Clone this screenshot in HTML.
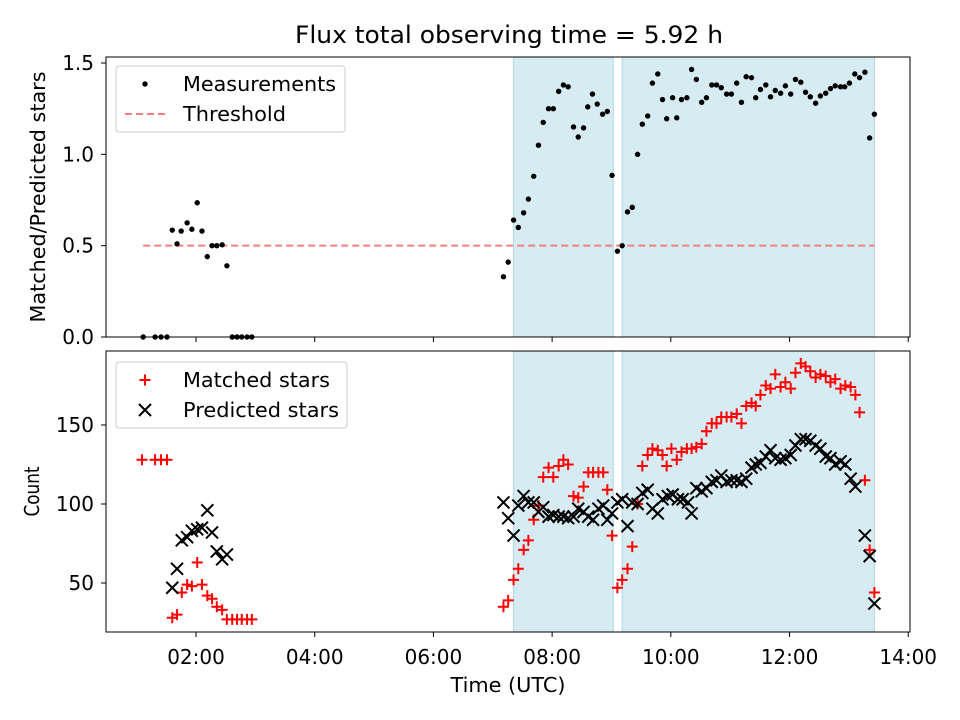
<!DOCTYPE html>
<html><head><meta charset="utf-8"><style>
body{margin:0;background:#fff;}
svg{display:block;font-family:"DejaVu Sans","Liberation Sans",sans-serif;}
</style></head><body>
<svg id="c" width="960" height="720" viewBox="0 0 960 720"></svg>
<script>
const ratioT=[1.11,1.31,1.41,1.51,1.60,1.68,1.75,1.85,1.93,2.02,2.10,2.19,2.27,2.35,2.44,2.52,2.61,2.69,2.77,2.86,2.94,
7.18,7.26,7.35,7.43,7.52,7.60,7.69,7.77,7.85,7.94,8.02,8.11,8.19,8.27,8.36,8.44,8.53,8.60,8.68,8.76,8.85,8.93,9.01,9.10,9.18,9.27,9.35,9.44,9.52,9.61,9.69,9.78,9.86,9.93,10.03,10.10,10.18,10.27,10.35,10.43,10.52,10.60,10.69,10.77,10.85,10.94,11.02,11.11,11.19,11.27,11.36,11.43,11.51,11.60,11.68,11.76,11.85,11.93,12.02,12.10,12.19,12.27,12.35,12.44,12.52,12.61,12.69,12.77,12.86,12.93,13.01,13.10,13.18,13.27,13.35,13.43];
const ratioV=[0,0,0,0,0.585,0.51,0.58,0.625,0.59,0.735,0.58,0.44,0.50,0.50,0.505,0.39,0,0,0,0,0,
0.33,0.41,0.64,0.60,0.68,0.755,0.88,1.05,1.175,1.25,1.25,1.345,1.38,1.37,1.15,1.095,1.145,1.26,1.33,1.275,1.22,1.235,0.885,0.47,0.50,0.685,0.71,1.0,1.165,1.21,1.39,1.44,1.30,1.195,1.31,1.20,1.30,1.31,1.465,1.41,1.285,1.31,1.38,1.38,1.365,1.33,1.33,1.39,1.285,1.425,1.42,1.31,1.355,1.38,1.315,1.35,1.335,1.375,1.33,1.41,1.395,1.34,1.315,1.28,1.32,1.335,1.36,1.375,1.37,1.37,1.39,1.44,1.42,1.45,1.09,1.22];
const matchT=[1.09,1.31,1.41,1.51,1.60,1.68,1.76,1.85,1.93,2.02,2.10,2.19,2.27,2.35,2.44,2.52,2.61,2.69,2.77,2.86,2.94,
7.18,7.26,7.35,7.43,7.52,7.60,7.69,7.77,7.85,7.94,8.02,8.11,8.19,8.27,8.36,8.44,8.53,8.61,8.69,8.78,8.86,8.93,9.01,9.10,9.18,9.27,9.35,9.44,9.52,9.61,9.69,9.78,9.86,9.93,10.01,10.10,10.18,10.27,10.35,10.43,10.52,10.60,10.69,10.77,10.85,10.94,11.02,11.11,11.19,11.27,11.36,11.43,11.51,11.60,11.68,11.76,11.85,11.93,12.02,12.10,12.19,12.27,12.35,12.44,12.52,12.61,12.69,12.77,12.86,12.94,13.03,13.11,13.18,13.27,13.35,13.43];
const matchV=[128,128,128,128,28,30,44,49,48,63,49,42,40,35,33,27,27,27,27,27,27,
35,39,52,59,71,77,90,99,117,123,117,124,128,125,105,104,111,120,120,120,120,109,80,47,52,59,73,100,124,131,135,134,131,124,135,128,133,135,135,136,138,146,151,151,155,155,155,157,151,162,164,162,169,175,173,182,174,177,173,183,189,187,184,180,182,181,177,179,173,175,174,169,158,115,71,44];
const predT=[1.60,1.68,1.76,1.85,1.93,2.02,2.10,2.19,2.27,2.35,2.44,2.52,
7.18,7.26,7.35,7.43,7.52,7.60,7.69,7.77,7.85,7.94,8.02,8.11,8.19,8.27,8.36,8.44,8.53,8.61,8.69,8.78,8.86,8.93,9.01,9.10,9.18,9.27,9.35,9.44,9.52,9.61,9.69,9.78,9.86,9.95,10.03,10.12,10.20,10.29,10.35,10.43,10.52,10.60,10.69,10.77,10.85,10.94,11.02,11.11,11.19,11.27,11.36,11.43,11.51,11.60,11.68,11.76,11.85,11.93,12.02,12.10,12.19,12.27,12.35,12.44,12.52,12.61,12.69,12.77,12.86,12.94,13.03,13.11,13.27,13.35,13.43];
const predV=[47,59,77,79,83,84,85,96,82,70,65,68,
101,91,80,99,105,101,101,95,98,92,93,92,92,91,92,97,95,92,90,97,99,90,94,101,103,86,101,100,107,109,97,94,103,105,106,103,103,101,94,110,108,110,114,115,118,114,115,115,114,116,123,125,126,130,134,129,128,129,131,137,141,141,140,137,135,130,129,125,127,125,116,111,80,67,37];
const spans=[[7.35,9.03],[9.18,13.43]];
const xTicks=[2,4,6,8,10,12,14];
const xTickLabels=["02:00","04:00","06:00","08:00","10:00","12:00","14:00"];
const topTicks=[0,0.5,1.0,1.5];
const topTickLabels=["0.0","0.5","1.0","1.5"];
const botTicks=[50,100,150];
const botTickLabels=["50","100","150"];
const threshold=0.5, thrRange=[1.11,13.43];

const NS="http://www.w3.org/2000/svg";
const svg=document.getElementById('c');
function el(tag,a,parent){const e=document.createElementNS(NS,tag);for(const k in a)e.setAttribute(k,a[k]);(parent||svg).appendChild(e);return e;}
const L=106,R=910;
const X=t=>L+(t-0.483)*(R-L)/(14.03-0.483);
const T={top:57,bot:337,min:0,max:1.533};
const B={top:351,bot:632,min:19,max:196.8};
const Y=(p,v)=>p.bot-(v-p.min)*(p.bot-p.top)/(p.max-p.min);
const FS=20;

let t=el('text',{x:509,y:43,'text-anchor':'middle','font-size':'24',textLength:428,lengthAdjust:'spacingAndGlyphs'});t.textContent="Flux total observing time = 5.92 h";



function panel(p,name,ticks,labels,ylab,ylx,ylen){
  const g=el('g',{});
  
  
  spans.forEach(s=>{const r=el('rect',{x:X(s[0]),y:p.top,width:X(s[1])-X(s[0]),height:p.bot-p.top,fill:'#add8e6','fill-opacity':0.5,stroke:'#add8e6','stroke-width':1},g);
    
    });
  ticks.forEach((v,i)=>{const y=Y(p,v);el('line',{x1:L-5,x2:L,y1:y,y2:y,stroke:'#000'},g);
    const tx=el('text',{x:L-12,y:y+7,'text-anchor':'end','font-size':FS},g);tx.textContent=labels[i];
    
    });
  xTicks.forEach(v=>{const x=X(v);el('line',{x1:x,x2:x,y1:p.bot,y2:p.bot+5,stroke:'#000'},g);});
  const cy=(p.top+p.bot)/2;
  const yl=el('text',{x:ylx,y:cy,'text-anchor':'middle','font-size':FS,textLength:ylen,lengthAdjust:'spacingAndGlyphs',transform:`rotate(-90 ${ylx} ${cy})`},g);yl.textContent=ylab;
  
  
  return g;
}
panel(T,'top-panel',topTicks,topTickLabels,'Matched/Predicted stars',45,251);
panel(B,'bottom-panel',botTicks,botTickLabels,'Count',39,50);
xTicks.forEach((v,i)=>{const tx=el('text',{x:X(v),y:664,'text-anchor':'middle','font-size':FS});tx.textContent=xTickLabels[i];
  
  });
const xl=el('text',{x:508,y:692,'text-anchor':'middle','font-size':FS,textLength:115,lengthAdjust:'spacingAndGlyphs'});xl.textContent="Time (UTC)";



const th=el('line',{x1:X(thrRange[0]),x2:X(thrRange[1]),y1:Y(T,threshold),y2:Y(T,threshold),stroke:'#f08080','stroke-width':2,'stroke-dasharray':'7,4'});


ratioT.forEach((tt,i)=>{const c=el('circle',{cx:X(tt),cy:Y(T,ratioV[i]),r:2.7,fill:'#000'});
  
  });
function plus(x,y,col){return el('path',{d:`M${x-5.5},${y}H${x+5.5}M${x},${y-5.5}V${y+5.5}`,stroke:col,'stroke-width':2});}
function cross(x,y){return el('path',{d:`M${x-6},${y-6}L${x+6},${y+6}M${x-6},${y+6}L${x+6},${y-6}`,stroke:'#000','stroke-width':2});}
matchT.forEach((tt,i)=>{const p=plus(X(tt),Y(B,matchV[i]),'#f00');
  
  });
predT.forEach((tt,i)=>{const p=cross(X(tt),Y(B,predV[i]));
  
  });

[T,B].forEach(p=>{el('rect',{x:L,y:p.top,width:R-L,height:p.bot-p.top,fill:'none',stroke:'#000','stroke-width':1});});

function legend(x,y,w,name,items){
  const g=el('g',{});
  
  
  el('rect',{x:x,y:y,width:w,height:66,fill:'#fff','fill-opacity':0.8,stroke:'#ccc',rx:3},g);
  items.forEach((it,i)=>{const cy=y+18+i*30;it.draw(x+29,cy,g);
    const tx=el('text',{x:x+67,y:cy+7,'font-size':FS,textLength:it.len,lengthAdjust:'spacingAndGlyphs'},g);tx.textContent=it.label;
    
    });
}
legend(116,66,229,'top-legend',[
  {label:'Measurements',len:153,draw:(x,y,g)=>el('circle',{cx:x,cy:y,r:2.7,fill:'#000'},g)},
  {label:'Threshold',len:103,draw:(x,y,g)=>el('line',{x1:x-20,x2:x+20,y1:y,y2:y,stroke:'#f08080','stroke-width':2,'stroke-dasharray':'7,4'},g)}]);
legend(116,362,231,'bottom-legend',[
  {label:'Matched stars',len:147,draw:(x,y,g)=>{g.appendChild(plus(x,y,'#f00'));}},
  {label:'Predicted stars',len:156,draw:(x,y,g)=>{g.appendChild(cross(x,y));}}]);
</script>
</body></html>
